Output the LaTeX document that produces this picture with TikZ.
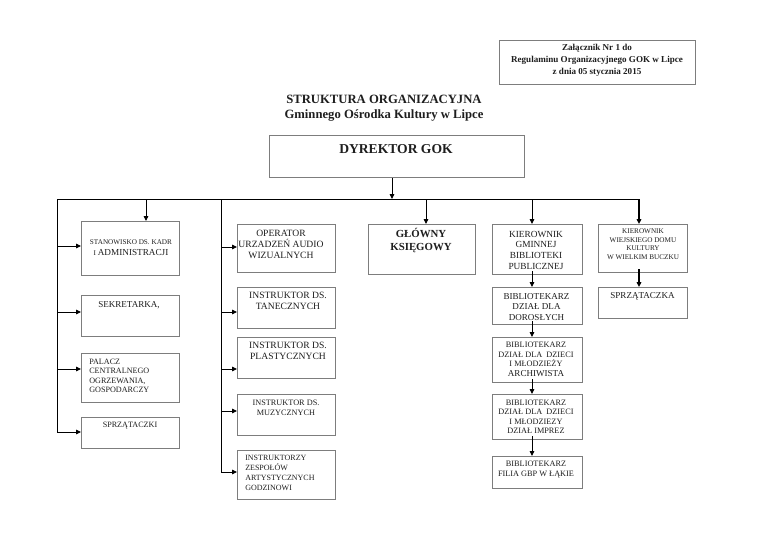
\documentclass[tikz,border=0pt]{standalone}
\usepackage{fontspec}
\setmainfont{Liberation Serif}
\usetikzlibrary{arrows.meta}
\definecolor{boxgray}{RGB}{125,125,125}
\definecolor{txt}{RGB}{30,30,30}
\newcommand{\fs}[2]{\fontsize{#1}{#2}\selectfont}
\newcommand{\bx}[5]{\node[box, minimum width={(#4)*0.75pt}, minimum height={(#5)*0.75pt}] (#1) at (#2,#3) {};}
\tikzset{
  box/.style={draw=boxgray, line width=0.8pt, anchor=north west, inner sep=0pt, fill=white},
  t/.style={inner sep=0pt, align=center, text=txt, anchor=center},
  tl/.style={inner sep=0pt, align=left, text=txt, anchor=west},
  conn/.style={draw=black, line width=0.6pt},
  arr/.style={conn, -{Triangle[length=3.6pt,width=3.4pt]}},
}
\begin{document}
\begin{tikzpicture}[x=0.75pt,y=-0.75pt]
\useasboundingbox (0,0) rectangle (768,543);
% header
\bx{annex}{499}{40}{196}{44}
\node[t, font=\bfseries\fs{6.8}{9}] (annext) at (597,60) {Załącznik Nr 1 do\\Regulaminu Organizacyjnego GOK w Lipce\\z dnia 05 stycznia 2015};
\node[t, font=\bfseries\fs{9.5}{11.25}] (title) at (384,108) {STRUKTURA ORGANIZACYJNA\\Gminnego Ośrodka Kultury w Lipce};
% director
\bx{dyr}{269}{135}{255}{42}
\node[t, font=\bfseries\fs{10.2}{12}] (dyrt) at (396,149) {DYREKTOR GOK};
% boxes left column
\bx{stan}{81}{221}{98}{54}
\node[t, font=\fs{5.4}{8.2}] (stant) at (131,247.5) {STANOWISKO DS. KADR\\{\fs{5.4}{8.2}I} {\fs{6.9}{8.2}ADMINISTRACJI}};
\bx{sek}{81}{295}{98}{41}
\node[t, font=\fs{6.8}{8}] (sekt) at (129,305) {SEKRETARKA,};
\bx{pal}{81}{353}{98}{49}
\node[tl, font=\fs{6.1}{7.05}] (palt) at (89,376) {PALACZ\\CENTRALNEGO\\OGRZEWANIA,\\GOSPODARCZY};
\bx{sprz}{81}{417}{98}{31}
\node[t, font=\fs{6.1}{7}] (sprzt) at (130,426) {SPRZĄTACZKI};
% second column
\bx{oper}{237}{224}{98}{48}
\node[t, font=\fs{7.2}{8.25}] (opert) at (281,244) {OPERATOR\\URZADZEŃ AUDIO\\WIZUALNYCH};
\bx{tan}{237}{287}{98}{41}
\node[t, font=\fs{7.2}{8.25}] (tant) at (288,301) {INSTRUKTOR DS.\\TANECZNYCH};
\bx{pla}{237}{337}{98}{41}
\node[t, font=\fs{7.2}{8.25}] (plat) at (288,350.5) {INSTRUKTOR DS.\\PLASTYCZNYCH};
\bx{muz}{237}{394}{98}{41}
\node[t, font=\fs{6.2}{7.5}] (muzt) at (286,408) {INSTRUKTOR DS.\\MUZYCZNYCH};
\bx{ins}{237}{450}{98}{49}
\node[tl, font=\fs{6.0}{7.3}] (inst) at (245,473) {INSTRUKTORZY\\ZESPOŁÓW\\ARTYSTYCZNYCH\\GODZINOWI};
% glowny
\bx{glo}{368}{224}{107}{50}
\node[t, font=\bfseries\fs{8.1}{9.75}] (glot) at (421,240.5) {GŁÓWNY\\KSIĘGOWY};
% library column
\bx{kgbp}{492}{224}{90}{50}
\node[t, font=\fs{7.0}{8}] (kgbpt) at (536,250) {KIEROWNIK\\GMINNEJ\\BIBLIOTEKI\\PUBLICZNEJ};
\bx{bdor}{492}{287}{90}{37}
\node[t, font=\fs{6.8}{7.9}] (bdort) at (536.5,306.7) {BIBLIOTEKARZ\\DZIAŁ DLA\\DOROSŁYCH};
\bx{barch}{492}{337}{90}{45}
\node[t, font=\fs{6.2}{7.2}] (barcht) at (536,359.5) {BIBLIOTEKARZ\\DZIAŁ DLA \ DZIECI\\I MŁODZIEŻY\\{\fs{6.8}{7.2}ARCHIWISTA}};
\bx{bimp}{492}{394}{90}{45}
\node[t, font=\fs{6.2}{7.2}] (bimpt) at (536,416.7) {BIBLIOTEKARZ\\DZIAŁ DLA \ DZIECI\\I MŁODZIEZY\\DZIAŁ IMPREZ};
\bx{fil}{492}{456}{90}{32}
\node[t, font=\fs{6.2}{7.5}] (filt) at (536,470) {BIBLIOTEKARZ\\FILIA GBP W ŁĄKIE};
% wdk column
\bx{wdk}{598}{224}{89}{48}
\node[t, font=\fs{5.4}{6.5}] (wdkt) at (643,244) {KIEROWNIK\\WIEJSKIEGO DOMU\\KULTURY\\W WIELKIM BUCZKU};
\bx{wspr}{598}{287}{89}{31}
\node[t, font=\fs{6.8}{8}] (wsprt) at (642.5,296) {SPRZĄTACZKA};
% bus coordinates
\coordinate (busL) at (57,199);
\coordinate (busR) at (639,199);
\coordinate (bus2) at (221,199);
\coordinate (d0) at (392,199);
\coordinate (d1) at (146,199);
\coordinate (d2) at (426,199);
\coordinate (d3) at (532,199);
\coordinate (a1) at (57,246);
\coordinate (a2) at (57,312);
\coordinate (a3) at (57,369);
\coordinate (a4) at (57,432);
\coordinate (c1) at (221,247);
\coordinate (c2) at (221,312);
\coordinate (c3) at (221,369);
\coordinate (c4) at (221,411);
\coordinate (c5) at (221,472);
% connectors
\draw[conn] (a4) -- (busL) -- (busR);
\draw[conn] (bus2) -- (c5);
\draw[arr] (d0 |- dyr.south) -- (d0);
\draw[arr] (d1) -- (d1 |- stan.north);
\draw[arr] (d2) -- (d2 |- glo.north);
\draw[arr] (d3) -- (d3 |- kgbp.north);
\draw[arr, line width=0.9pt] (busR) -- (busR |- wdk.north);
\draw[arr] (a1) -- (a1 -| stan.west);
\draw[arr] (a2) -- (a2 -| sek.west);
\draw[arr] (a3) -- (a3 -| pal.west);
\draw[arr] (a4) -- (a4 -| sprz.west);
\draw[arr] (c1) -- (c1 -| oper.west);
\draw[arr] (c2) -- (c2 -| tan.west);
\draw[arr] (c3) -- (c3 -| pla.west);
\draw[arr] (c4) -- (c4 -| muz.west);
\draw[arr] (c5) -- (c5 -| ins.west);
\draw[arr] ([yshift=3pt]d3 |- kgbp.south) -- (d3 |- bdor.north);
\draw[arr] ([yshift=3pt]d3 |- bdor.south) -- (d3 |- barch.north);
\draw[arr] ([yshift=3pt]d3 |- barch.south) -- (d3 |- bimp.north);
\draw[arr] ([yshift=3pt]d3 |- bimp.south) -- (d3 |- fil.north);
\draw[arr, line width=0.9pt] ([yshift=3pt]busR |- wdk.south) -- (busR |- wspr.north);
\end{tikzpicture}
\end{document}
